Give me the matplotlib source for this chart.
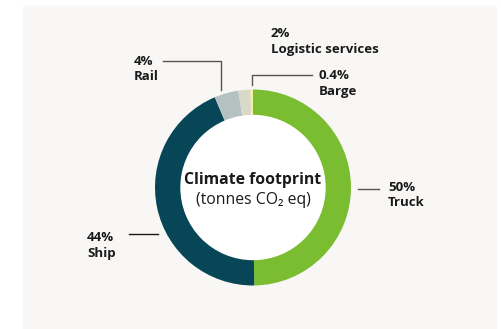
import matplotlib.pyplot as plt
from matplotlib.patches import Rectangle, Circle

plt.rcParams['font.family'] = ['Open Sans', 'DejaVu Sans']

modes = ['Truck', 'Ship', 'Rail', 'Logistic services', 'Barge']
shares = [50, 44, 4, 2, 0.4]
pct_labels = ['50%', '44%', '4%', '2%', '0.4%']
colors = ['#7abd30', '#074656', '#b4c1c1', '#d9d9ca', '#f4f0a3']

W, H = 501, 329
fig = plt.figure(figsize=(W / 100, H / 100), dpi=100)
ax = fig.add_axes([0, 0, 1, 1])

def Y(y):
    # pixel row from top -> data y
    return H - y

ax.add_patch(Rectangle((23, 0), 473, Y(6), color='#f8f7f5', zorder=0))

cx, cy, r, ring = 253, Y(187.5), 98, 26
ax.pie(shares, colors=colors, startangle=90, counterclock=False,
       center=(cx, cy), radius=r, frame=True,
       wedgeprops=dict(width=ring, linewidth=0))
ax.add_patch(Circle((cx, cy), r - ring, color='white', zorder=3))
ax.set_xlim(0, W)
ax.set_ylim(0, H)
ax.set_aspect('equal')
ax.axis('off')

ax.text(cx, Y(180), 'Climate footprint', ha='center', va='center',
        fontsize=11.3, fontweight='bold', color='#1a1a1a', zorder=4)
ax.text(cx, Y(200), '(tonnes CO\u2082 eq)', ha='center', va='center',
        fontsize=11.3, color='#1a1a1a', zorder=4)

# label positions (top-left of text) and leader lines
lab_pos = {
    'Truck': (388, 181),
    'Ship': (87, 231),
    'Rail': (134, 55),
    'Logistic services': (271, 27),
    'Barge': (319, 69),
}
leaders = {
    'Truck': ([358, 379], [189, 189], '#555555'),
    'Ship': ([129, 158], [234, 234], '#1a1a1a'),
    'Rail': ([163, 221, 221], [61, 61, 90], '#555555'),
    'Barge': ([252, 252, 312], [85, 75, 75], '#555555'),
}

for m, p in zip(modes, pct_labels):
    x, y = lab_pos[m]
    ax.text(x, Y(y), p + '\n' + m, ha='left', va='top', fontsize=9.5,
            fontweight='bold', color='#1a1a1a', linespacing=1.25)
    if m in leaders:
        xs, ys, c = leaders[m]
        ax.plot(xs, [Y(v) for v in ys], color=c, lw=1)

fig.savefig('out.png', dpi=100, facecolor='white')
